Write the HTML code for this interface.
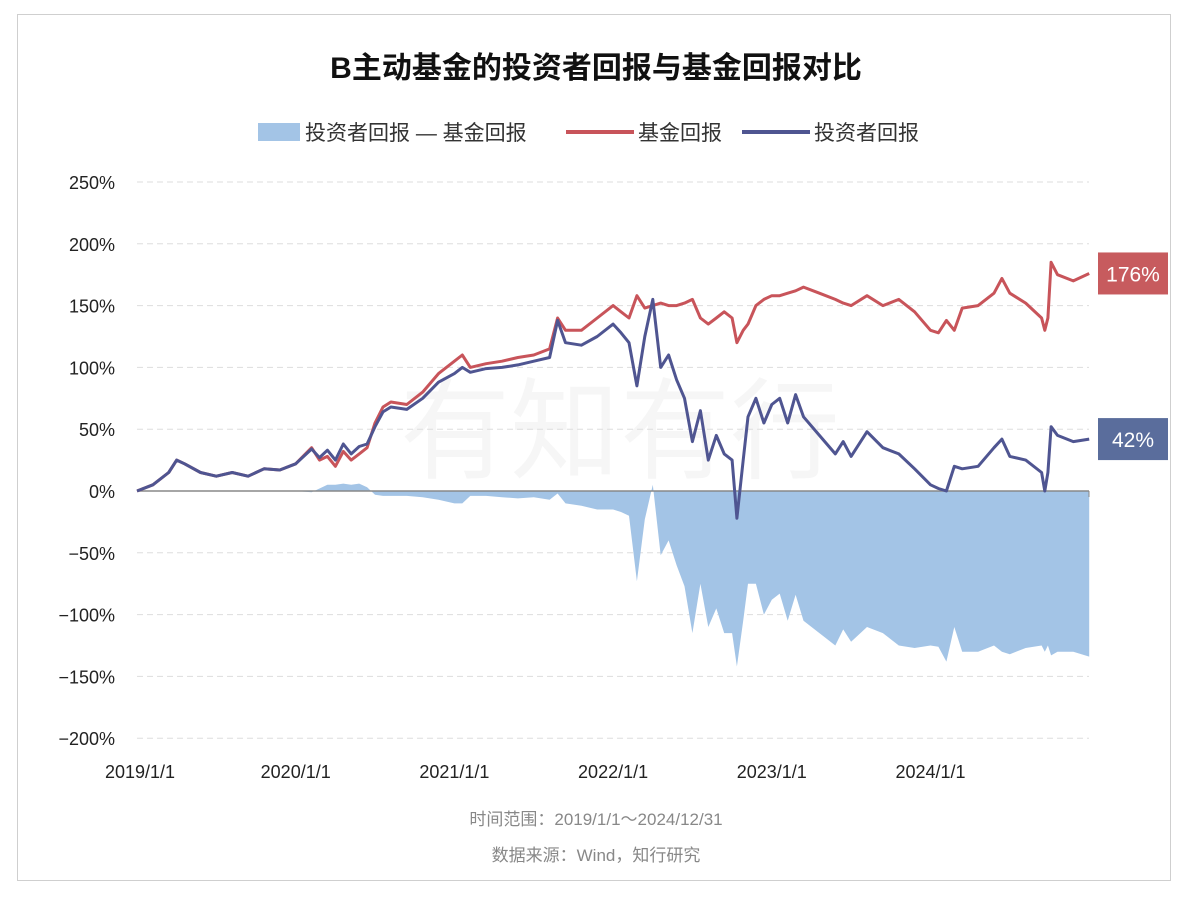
<!DOCTYPE html>
<html><head><meta charset="utf-8">
<style>
body{margin:0;background:#fff;font-family:"Liberation Sans","Noto Sans CJK SC",sans-serif;}
#frame{position:absolute;left:17px;top:14px;width:1152px;height:865px;border:1px solid #cfcfcf;}
</style></head>
<body>
<div id="frame"></div>
<svg id="chart" width="1192" height="908" style="position:absolute;left:0;top:0">
<text x="596" y="78" text-anchor="middle" font-size="30" font-weight="bold" fill="#111">B主动基金的投资者回报与基金回报对比</text>
<g font-size="21" fill="#333">
<rect x="258" y="123" width="42" height="18" fill="#a3c4e6"/>
<text x="305" y="140">投资者回报 — 基金回报</text>
<line x1="566" y1="132" x2="634" y2="132" stroke="#c8545a" stroke-width="4"/>
<text x="638" y="140">基金回报</text>
<line x1="742" y1="132" x2="810" y2="132" stroke="#4f5591" stroke-width="4"/>
<text x="814" y="140">投资者回报</text>
</g>
<text x="620" y="470" text-anchor="middle" font-size="110" fill="#000" opacity="0.03">有知有行</text>
<g id="grid"></g><g id="marks"></g><g id="axes"></g>
<text x="596" y="825" text-anchor="middle" font-size="17" fill="#888">时间范围：2019/1/1～2024/12/31</text>
<text x="596" y="861" text-anchor="middle" font-size="17" fill="#888">数据来源：Wind，知行研究</text>
</svg>
<script>
const dates=[2019.0,2019.1,2019.2,2019.25,2019.3,2019.4,2019.5,2019.6,2019.7,2019.8,2019.9,2020.0,2020.1,2020.15,2020.2,2020.25,2020.3,2020.35,2020.4,2020.45,2020.5,2020.55,2020.6,2020.7,2020.8,2020.9,2021.0,2021.05,2021.1,2021.2,2021.3,2021.4,2021.5,2021.6,2021.65,2021.7,2021.8,2021.9,2022.0,2022.05,2022.1,2022.15,2022.2,2022.25,2022.3,2022.35,2022.4,2022.45,2022.5,2022.55,2022.6,2022.65,2022.7,2022.75,2022.78,2022.82,2022.85,2022.9,2022.95,2023.0,2023.05,2023.1,2023.15,2023.2,2023.3,2023.4,2023.45,2023.5,2023.6,2023.7,2023.8,2023.9,2024.0,2024.05,2024.1,2024.15,2024.2,2024.3,2024.4,2024.45,2024.5,2024.6,2024.7,2024.72,2024.74,2024.76,2024.8,2024.9,2025.0];
const fundReturn=[0,5,15,25,22,15,12,15,12,18,17,22,35,25,28,20,32,25,30,35,55,68,72,70,80,95,105,110,100,103,105,108,110,115,140,130,130,140,150,145,140,158,148,150,152,150,150,152,155,140,135,140,145,140,120,130,135,150,155,158,158,160,162,165,160,155,152,150,158,150,155,145,130,128,138,130,148,150,160,172,160,152,140,130,140,185,175,170,176];
const investorReturn=[0,5,15,25,22,15,12,15,12,18,17,22,34,27,33,25,38,30,36,38,52,64,68,66,75,88,95,100,96,99,100,102,105,108,138,120,118,125,135,128,120,85,125,155,100,110,90,75,40,65,25,45,30,25,-22,25,60,75,55,70,75,55,78,60,45,30,40,28,48,35,30,18,5,2,0,20,18,20,35,42,28,25,15,0,15,52,45,40,42];
const yTicks=[250,200,150,100,50,0,-50,-100,-150,-200];
const xTicks=[2019,2020,2021,2022,2023,2024];
const xTickLabels=["2019/1/1","2020/1/1","2021/1/1","2022/1/1","2023/1/1","2024/1/1"];
const X=t=>137+(t-2019)*158.7;
const Y=v=>491-v*1.236;
const NS="http://www.w3.org/2000/svg";
function mk(tag,attrs,parent){const e=document.createElementNS(NS,tag);for(const k in attrs)e.setAttribute(k,attrs[k]);parent.appendChild(e);return e;}
const grid=document.getElementById('grid'),marks=document.getElementById('marks'),axes=document.getElementById('axes');
yTicks.forEach(v=>{
 const l=mk('line',{x1:137,x2:1089,y1:Y(v),y2:Y(v),stroke:'#ddd','stroke-dasharray':'6,4'},grid);
 
 
 const t=mk('text',{x:115,y:Y(v)+7,'text-anchor':'end','font-size':18,fill:'#222'},axes);
 t.textContent=(v<0?'\u2212'+(-v):v)+'%';
 
 
});
xTicks.forEach((d,i)=>{
 const t=mk('text',{x:X(d)+(i==0?3:0),y:778,'text-anchor':'middle','font-size':18,fill:'#222'},axes);
 t.textContent=xTickLabels[i];
 
 
});
let p='M'+X(dates[0])+','+Y(0);
dates.forEach((d,i)=>{p+='L'+X(d).toFixed(1)+','+Y(investorReturn[i]-fundReturn[i]).toFixed(1);});
p+='L'+X(dates[dates.length-1])+','+Y(0)+'Z';
const area=mk('path',{d:p,fill:'#a3c4e6'},marks);


const zl=mk('line',{x1:137,x2:1089,y1:Y(0),y2:Y(0),stroke:'#888','stroke-width':1.5},marks);


mk('line',{x1:1089,x2:1089,y1:Y(0),y2:Y(0)+6,stroke:'#888'},marks);
function line(arr,color,name){
 const d=dates.map((t,i)=>(i?'L':'M')+X(t).toFixed(1)+','+Y(arr[i]).toFixed(1)).join('');
 const e=mk('path',{d:d,fill:'none',stroke:color,'stroke-width':3,'stroke-linejoin':'round'},marks);
 
 
}
line(fundReturn,'#c8545a','fund-return-line');
line(investorReturn,'#4f5591','investor-return-line');
function badge(v,color,name){
 const y=Y(v);
 const g=mk('g',{},axes);
 
 
 mk('rect',{x:1098,y:y-21,width:70,height:42,fill:color},g);
 const t=mk('text',{x:1133,y:y+8,'text-anchor':'middle','font-size':21,fill:'#fff'},g);
 t.textContent=v+'%';
}
badge(fundReturn[fundReturn.length-1],'#c75b5e','fund-end-label');
badge(investorReturn[investorReturn.length-1],'#5a6d9c','investor-end-label');
</script>
</body></html>
